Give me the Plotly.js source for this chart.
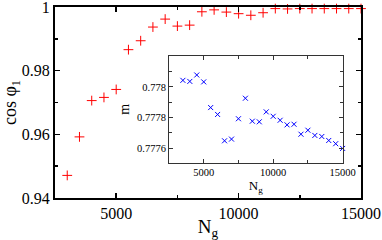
<!DOCTYPE html>
<html>
<head>
<meta charset="utf-8">
<script src="https://cdn.plot.ly/plotly-3.0.1.min.js"></script>
<style>html,body{margin:0;padding:0;background:#fff;}#chart{width:382px;height:240px;}</style>
</head>
<body>
<div id="chart"></div>
<script>
// Main panel: cos phi_1 vs N_g
var ngMain = [3000, 3500, 4000, 4500, 5000, 5500, 6000, 6500, 7000, 7500, 8000, 8500, 9000, 9500, 10000, 10500, 11000, 11500, 12000, 12500, 13000, 13500, 14000, 14500, 15000];
var cosPhi = [0.9471, 0.9592, 0.9706, 0.9716, 0.9741, 0.9866, 0.9894, 0.9937, 0.9962, 0.9940, 0.9943, 0.9985, 0.9991, 0.9984, 0.9979, 0.9974, 0.9982, 0.9995, 0.9994, 0.9995, 0.9995, 0.9995, 0.9995, 0.9995, 0.9995];
var mainYTicks = [0.94, 0.96, 0.98, 1];
var mainYLabels = ['0.94', '0.96', '0.98', '1'];
var mainXTicks = [5000, 10000, 15000];
var mainXLabels = ['5000', '10000', '15000'];
// Inset: m vs N_g
var ngInset = [3500, 4000, 4500, 5000, 5500, 6000, 6500, 7000, 7500, 8000, 8500, 9000, 9500, 10000, 10500, 11000, 11500, 12000, 12500, 13000, 13500, 14000, 14500, 15000];
var mVals = [0.778043, 0.778036, 0.778078, 0.778033, 0.777865, 0.777820, 0.777648, 0.777659, 0.777792, 0.777926, 0.777776, 0.777772, 0.777837, 0.777808, 0.777782, 0.777752, 0.777756, 0.777691, 0.777717, 0.777683, 0.777676, 0.777650, 0.777629, 0.777598];
var insetYTicks = [0.7776, 0.7778, 0.778];
var insetYLabels = ['0.7776', '0.7778', '0.778'];

var serif = "'Liberation Serif', 'DejaVu Serif', serif";

var traces = [
  {x: ngMain, y: cosPhi, type: 'scatter', mode: 'markers', xaxis: 'x', yaxis: 'y',
   marker: {symbol: 'cross-thin-open', size: 7, color: '#ff0000', line: {color: '#ff0000', width: 1}}, cliponaxis: false},
  {x: ngInset, y: mVals, type: 'scatter', mode: 'markers', xaxis: 'x2', yaxis: 'y2',
   marker: {symbol: 'x-thin-open', size: 5, color: '#0000ff', line: {color: '#0000ff', width: 1}}, cliponaxis: false}
];

var layout = {
  width: 382, height: 240,
  margin: {l: 55, r: 21, t: 7, b: 42},
  paper_bgcolor: '#fff', plot_bgcolor: '#fff',
  showlegend: false,
  font: {family: serif, color: '#000'},
  xaxis: {
    range: [2500, 15000], tickmode: 'array', tickvals: mainXTicks, ticktext: mainXLabels,
    ticks: 'inside', ticklen: 5, tickwidth: 1.5, tickcolor: '#000',
    minor: {tick0: 2500, dtick: 2500, ticks: 'inside', ticklen: 3, tickwidth: 1.5, tickcolor: '#000'},
    showline: true, linewidth: 2, linecolor: '#000', mirror: 'ticks',
    showgrid: false, zeroline: false, ticklabeloverflow: 'allow',
    tickfont: {size: 16, family: serif, color: '#000'},
    title: {text: 'N<sub>g</sub>', font: {size: 19, family: serif, color: '#000'}, standoff: 4},
    automargin: false
  },
  yaxis: {
    range: [0.94, 1], tickmode: 'array', tickvals: mainYTicks, ticktext: mainYLabels,
    ticks: 'inside', ticklen: 5, tickwidth: 1.5, tickcolor: '#000',
    minor: {tick0: 0.94, dtick: 0.01, ticks: 'inside', ticklen: 3, tickwidth: 1.5, tickcolor: '#000'},
    showline: true, linewidth: 2, linecolor: '#000', mirror: 'ticks',
    showgrid: false, zeroline: false, ticklabeloverflow: 'allow',
    tickfont: {size: 16, family: serif, color: '#000'},
    title: {text: 'cos \u03c6<sub>1</sub>', font: {size: 18, family: serif, color: '#000'}, standoff: 6},
    automargin: false
  },
  xaxis2: {
    domain: [0.3725, 0.940], anchor: 'y2',
    range: [2500, 15000], tickmode: 'array', tickvals: mainXTicks, ticktext: mainXLabels,
    ticks: 'inside', ticklen: 4, tickwidth: 1, tickcolor: '#333',
    minor: {tick0: 2500, dtick: 2500, ticks: 'inside', ticklen: 3, tickwidth: 1, tickcolor: '#333'},
    showline: true, linewidth: 1, linecolor: '#333', mirror: 'ticks',
    showgrid: false, zeroline: false, ticklabeloverflow: 'allow',
    tickfont: {size: 10.5, family: serif, color: '#000'},
    title: {text: 'N<sub>g</sub>', font: {size: 13, family: serif, color: '#000'}, standoff: 0},
    automargin: false
  },
  yaxis2: {
    domain: [0.185, 0.745], anchor: 'x2',
    range: [0.777505, 0.778204], tickmode: 'array', tickvals: insetYTicks, ticktext: insetYLabels,
    ticks: 'inside', ticklen: 4, tickwidth: 1, tickcolor: '#333',
    minor: {tick0: 0.7775, dtick: 0.0001, ticks: 'inside', ticklen: 3, tickwidth: 1, tickcolor: '#333'},
    showline: true, linewidth: 1, linecolor: '#333', mirror: 'ticks',
    showgrid: false, zeroline: false, ticklabeloverflow: 'allow',
    tickfont: {size: 10.5, family: serif, color: '#000'},
    title: {text: 'm', font: {size: 14, family: serif, color: '#000'}, standoff: 4},
    automargin: false
  },
  shapes: [
    {type: 'rect', xref: 'x2 domain', yref: 'y2 domain', x0: 0, x1: 1, y0: 0, y1: 1,
     fillcolor: '#fff', line: {width: 0}, layer: 'below'}
  ]
};

Plotly.newPlot('chart', traces, layout, {staticPlot: true, displayModeBar: false});
</script>
</body>
</html>
